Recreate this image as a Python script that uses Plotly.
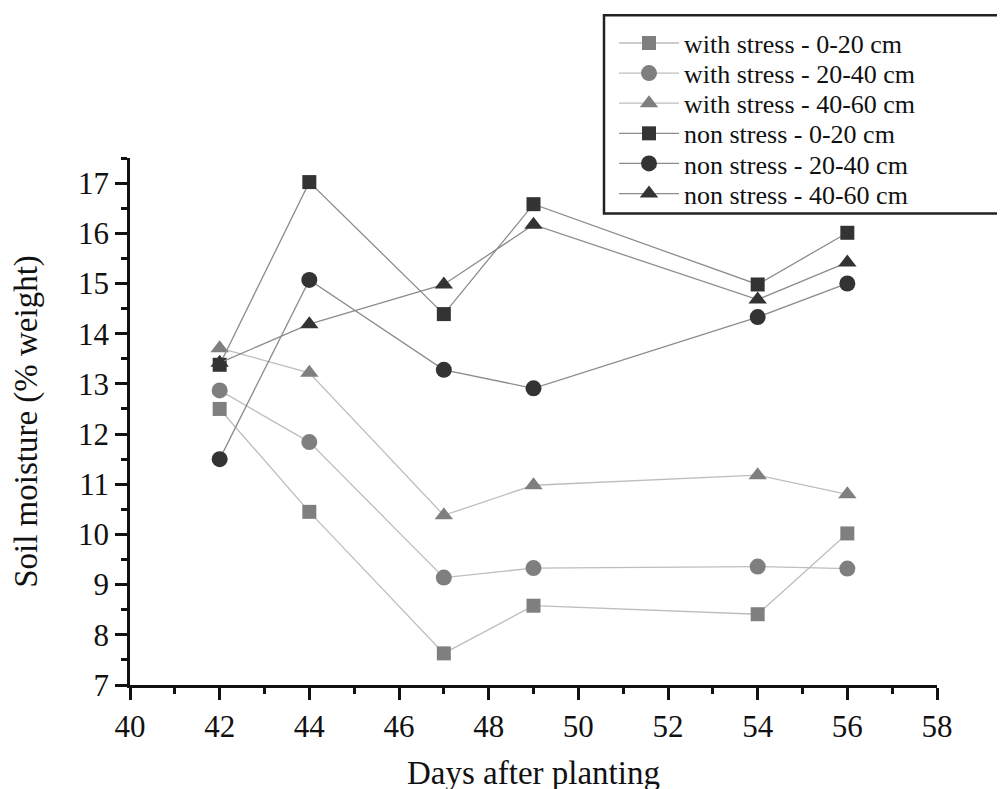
import plotly.graph_objects as go

days = [42, 44, 47, 49, 54, 56]
ws_0_20 = [12.5, 10.45, 7.63, 8.58, 8.41, 10.02]
ws_20_40 = [12.87, 11.84, 9.14, 9.33, 9.36, 9.32]
ws_40_60 = [13.71, 13.22, 10.38, 10.98, 11.18, 10.8]
ns_0_20 = [13.38, 17.02, 14.39, 16.58, 14.98, 16.01]
ns_20_40 = [11.5, 15.07, 13.28, 12.91, 14.33, 15.0]
ns_40_60 = [13.42, 14.19, 14.98, 16.17, 14.68, 15.42]

names = ["with stress - 0-20 cm", "with stress - 20-40 cm", "with stress - 40-60 cm",
         "non stress - 0-20 cm", "non stress - 20-40 cm", "non stress - 40-60 cm"]
series = [ws_0_20, ws_20_40, ws_40_60, ns_0_20, ns_20_40, ns_40_60]
symbols = ["square", "circle", "triangle-up", "square", "circle", "triangle-up"]
sizes = [14, 16, 16, 14, 16, 16]
mcolors = ["#7f7f7f"] * 3 + ["#333333"] * 3
lcolors = ["#bdbdbd"] * 3 + ["#8c8c8c"] * 3

FONT = "Liberation Serif"
TXT = "#111111"

# figure geometry (page has an 8px body margin)
L, T, PW, PH = 122, 150, 807, 532
W, H = 1005, 789
R = W - L - PW
B = H - T - PH

def px_to_paper_x(fx):
    return (fx - L) / PW

def px_to_paper_y(fy):
    return (T + PH - fy) / PH

fig = go.Figure()
legend_layouts = {}
for i, (n, s, sym, sz, mc, lc) in enumerate(zip(names, series, symbols, sizes, mcolors, lcolors)):
    lname = "legend" if i == 0 else f"legend{i + 1}"
    fig.add_trace(go.Scatter(
        x=days, y=s, name=n, mode="lines+markers",
        line=dict(color=lc, width=1.3),
        marker=dict(symbol=sym, size=sz, color=mc, line=dict(width=0)),
        legend=lname,
    ))
    row_y = 34 + 30.4 * i
    legend_layouts[lname] = dict(
        x=px_to_paper_x(606), y=px_to_paper_y(row_y),
        xanchor="left", yanchor="middle",
        borderwidth=0, bgcolor="rgba(0,0,0,0)",
        font=dict(family=FONT, size=26, color=TXT),
        itemwidth=60,
    )

# legend frame
fig.add_shape(
    type="rect", xref="paper", yref="paper",
    x0=px_to_paper_x(596), x1=px_to_paper_x(995),
    y0=px_to_paper_y(206), y1=px_to_paper_y(6),
    line=dict(color="#222222", width=2.5), fillcolor="white", layer="above",
)

fig.update_layout(
    width=W, height=H,
    margin=dict(l=L, r=R, t=T, b=B),
    paper_bgcolor="white", plot_bgcolor="white",
    font=dict(family=FONT, color=TXT),
    showlegend=True,
    xaxis=dict(
        range=[40, 58], dtick=2, tick0=40,
        showgrid=False, zeroline=False,
        showline=True, linecolor=TXT, linewidth=2.5,
        ticks="outside", ticklen=12, tickwidth=2.5, tickcolor=TXT,
        minor=dict(dtick=1, ticks="outside", ticklen=6, tickwidth=2.5, tickcolor=TXT),
        tickfont=dict(family=FONT, size=31, color=TXT),
        title=dict(text="Days after planting", font=dict(family=FONT, size=33, color=TXT), standoff=18),
    ),
    yaxis=dict(
        range=[7, 17.5], dtick=1, tick0=7,
        showgrid=False, zeroline=False,
        showline=True, linecolor=TXT, linewidth=2.5,
        ticks="outside", ticklen=12, tickwidth=2.5, tickcolor=TXT,
        minor=dict(dtick=0.5, ticks="outside", ticklen=6, tickwidth=2.5, tickcolor=TXT),
        tickfont=dict(family=FONT, size=31, color=TXT),
        title=dict(text="Soil moisture (% weight)", font=dict(family=FONT, size=33, color=TXT), standoff=32),
    ),
    **legend_layouts,
)

fig.write_html("out.html")
